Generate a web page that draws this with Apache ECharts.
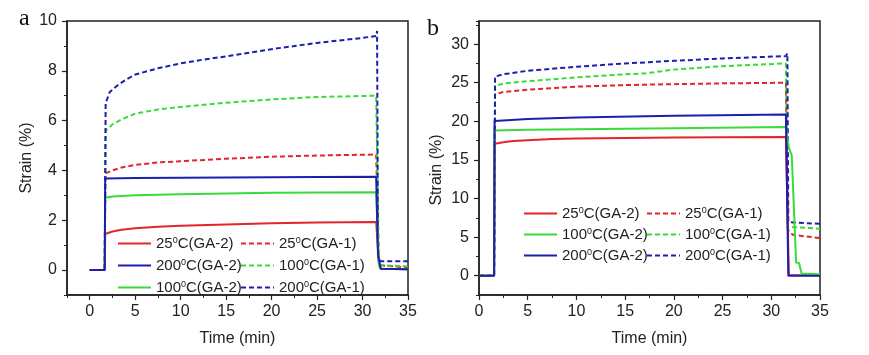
<!DOCTYPE html>
<html>
<head>
<meta charset="utf-8">
<script src="https://cdn.jsdelivr.net/npm/echarts@6/dist/echarts.min.js"></script>
<style>
html,body{margin:0;padding:0;background:#fff;}
#chart{width:869px;height:355px;}
</style>
</head>
<body>
<div id="chart"></div>
<script>
// ---------- data: panel a (time in min, strain in %) ----------
const a_25_GA2 = [[0,0],[1.65,0],[1.7,1.45],[2.5,1.55],[3.5,1.62],[5,1.68],[7.5,1.74],[10,1.78],[15,1.83],[20,1.88],[25,1.91],[31.5,1.93],[31.6,1.9],[31.8,0.3],[32,0.05],[35,0.03]];
const a_200_GA2 = [[0,0],[1.65,0],[1.7,3.68],[5,3.7],[15,3.72],[25,3.74],[31.5,3.75],[31.6,3.75],[31.7,0.65],[32,0.05],[35,0.03]];
const a_100_GA2 = [[0,0],[1.65,0],[1.7,2.9],[2.5,2.95],[5,3.0],[10,3.04],[20,3.1],[31.5,3.13],[31.6,3.13],[31.8,0.2],[32,0.05],[35,0.03]];
const a_25_GA1 = [[0,0],[1.65,0],[1.7,3.88],[2.5,4.0],[3.5,4.12],[5,4.22],[7.5,4.32],[10,4.37],[15,4.47],[20,4.55],[25,4.6],[31.5,4.64],[31.6,4.64],[31.8,0.2],[32,0.12],[35,0.1]];
const a_100_GA1 = [[0,0],[1.65,0],[1.75,5.6],[2.5,5.85],[3.5,6.05],[5,6.28],[7.5,6.45],[10,6.55],[15,6.72],[20,6.85],[25,6.95],[31.5,7.0],[31.6,7.02],[31.8,0.2],[32,0.15],[35,0.15]];
const a_200_GA1 = [[0,0],[1.65,0],[1.75,6.7],[2.2,7.15],[3,7.4],[4,7.65],[5,7.85],[7.5,8.1],[10,8.3],[12.5,8.45],[15,8.58],[20,8.87],[25,9.12],[30,9.32],[31.5,9.4],[31.6,9.6],[31.7,0.5],[32,0.35],[35,0.35]];

// ---------- data: panel b ----------
const b_25_GA2 = [[0,0],[1.55,0],[1.6,17.1],[2.5,17.3],[3.5,17.45],[5,17.55],[7.5,17.7],[10,17.78],[15,17.85],[20,17.9],[25,17.95],[31.5,17.98],[31.6,17.9],[31.8,0.1],[35,0.05]];
const b_100_GA2 = [[0,0],[1.55,0],[1.6,18.8],[5,18.9],[10,18.97],[20,19.12],[31.5,19.27],[31.6,19.2],[31.8,16.6],[32.1,15.6],[32.55,1.7],[32.85,1.65],[33.1,0.3],[35,0.2]];
const b_200_GA2 = [[0,0],[1.55,0],[1.6,20.05],[5,20.3],[10,20.5],[20,20.72],[31.5,20.9],[31.6,20.9],[31.75,0],[35,0]];
const b_25_GA1 = [[0,0],[1.55,0],[1.65,23.5],[2.5,23.8],[5,24.1],[10,24.5],[15,24.7],[20,24.82],[25,24.92],[31.5,25.0],[31.6,25.0],[31.7,5.95],[32.2,5.3],[35,4.87]];
const b_100_GA1 = [[0,0],[1.55,0],[1.65,24.6],[2.5,24.9],[5,25.2],[10,25.7],[15,26.1],[17,26.2],[20,26.7],[25,27.15],[31.5,27.5],[31.6,27.6],[31.7,6.4],[32.2,6.3],[35,6.08]];
const b_200_GA1 = [[0,0],[1.55,0],[1.65,25.8],[2.5,26.1],[5,26.55],[10,27.07],[15,27.5],[20,27.84],[25,28.15],[31.5,28.45],[31.65,28.8],[31.75,7.0],[32.2,6.9],[35,6.72]];

// ---------- tick labels ----------
const timeTicks = [0,5,10,15,20,25,30,35];
const aStrainTicks = [0,2,4,6,8,10];
const bStrainTicks = [0,5,10,15,20,25,30];

const names = {
  t25g2: '25⁰C(GA-2)', t25g1: '25⁰C(GA-1)',
  t100g2: '100⁰C(GA-2)', t100g1: '100⁰C(GA-1)',
  t200g2: '200⁰C(GA-2)', t200g1: '200⁰C(GA-1)'
};

const RED = '#e3262b', GREEN = '#38dc38', BLUE = '#1c1fae';
const FONT = 'Liberation Sans, Arial, sans-serif';

function mkSeries(name, data, color, dashed, xi, yi) {
  return {
    type: 'line', name: name, data: data, xAxisIndex: xi, yAxisIndex: yi,
    symbol: 'none', smooth: false, animation: false,
    lineStyle: { color: color, width: 2, type: dashed ? [5,3] : 'solid' },
    itemStyle: { color: color },
    z: dashed ? 2 : 3
  };
}

function majorX(grid, min, max) {
  return {
    type: 'value', gridIndex: grid, min: min, max: max, position: 'bottom',
    axisLine: { show: true, onZero: false, lineStyle: { color: '#222', width: 1.5 } },
    axisTick: { show: true, inside: false, length: 5, customValues: timeTicks, lineStyle: { color: '#222', width: 1.2 } },
    axisLabel: { show: true, customValues: timeTicks, margin: 9, fontSize: 16, color: '#222', fontFamily: FONT },
    splitLine: { show: false },
    name: 'Time (min)', nameLocation: 'middle', nameGap: 36,
    nameTextStyle: { fontSize: 16, color: '#222', fontFamily: FONT }
  };
}
function minorX(grid, min, max) {
  return {
    type: 'value', gridIndex: grid, min: min, max: max, interval: 2.5, position: 'bottom', offset: 0,
    axisLine: { show: false, onZero: false },
    axisTick: { show: true, inside: false, length: 3, lineStyle: { color: '#222', width: 1 } },
    axisLabel: { show: false }, splitLine: { show: false }
  };
}
function majorY(grid, min, max, ticks, pad) {
  return {
    type: 'value', gridIndex: grid, min: min, max: max, position: 'left',
    axisLine: { show: true, onZero: false, lineStyle: { color: '#222', width: 1.5 } },
    axisTick: { show: true, inside: false, length: 5, customValues: ticks, lineStyle: { color: '#222', width: 1.2 } },
    axisLabel: { show: true, customValues: ticks, margin: 10, fontSize: 16, color: '#222', fontFamily: FONT },
    splitLine: { show: false },
    name: 'Strain (%)', nameLocation: 'middle', nameGap: pad.gap,
    nameTextStyle: { fontSize: 16, color: '#222', fontFamily: FONT, padding: pad.padding }
  };
}
function minorY(grid, min, max, interval) {
  return {
    type: 'value', gridIndex: grid, min: min, max: max, interval: interval, position: 'left', offset: 0,
    axisLine: { show: false, onZero: false },
    axisTick: { show: true, inside: false, length: 3, lineStyle: { color: '#222', width: 1 } },
    axisLabel: { show: false }, splitLine: { show: false }
  };
}

function legendCol(left, top, gap, data) {
  return {
    orient: 'vertical', left: left, top: top, padding: 0, itemGap: gap,
    itemWidth: 33, itemHeight: 14, data: data,
    selectedMode: false,
    itemStyle: { opacity: 0 },
    formatter: function (n) { return n.replace('⁰', '{s|0}'); },
    textStyle: { fontSize: 15, color: '#222', fontFamily: FONT,
      rich: { s: { fontSize: 9, verticalAlign: 'top', padding: [0, 0, 4, 0], color: '#222', fontFamily: FONT } } }
  };
}

const chart = echarts.init(document.getElementById('chart'), null, { renderer: 'canvas' });
chart.setOption({
  animation: false,
  backgroundColor: '#fff',
  grid: [
    { left: 67, top: 21, width: 341, height: 274, show: true, borderColor: '#222', borderWidth: 1.5, backgroundColor: 'transparent' },
    { left: 479, top: 21, width: 341, height: 274, show: true, borderColor: '#222', borderWidth: 1.5, backgroundColor: 'transparent' }
  ],
  xAxis: [
    majorX(0, -2.5, 35), minorX(0, -2.5, 35),
    majorX(1, 0, 35), minorX(1, 0, 35)
  ],
  yAxis: [
    majorY(0, -1, 10, aStrainTicks, { gap: 32, padding: [0, 0, 0, 0] }), minorY(0, -1, 10, 1),
    majorY(1, -2.5, 33, bStrainTicks, { gap: 34, padding: [0, 24, 0, 0] }), minorY(1, -2.5, 33, 2.5)
  ],
  legend: [
    legendCol(117, 236, 7, [names.t25g2, names.t200g2, names.t100g2]),
    legendCol(240, 236, 7, [names.t25g1, names.t100g1, names.t200g1]),
    legendCol(523, 206, 6, [names.t25g2, names.t100g2, names.t200g2]),
    legendCol(646, 206, 6, [names.t25g1, names.t100g1, names.t200g1])
  ],
  graphic: [
    { type: 'text', left: 19, top: 7, style: { text: 'a', fontSize: 24, fontFamily: 'Liberation Serif, DejaVu Serif, serif', fill: '#111' } },
    { type: 'text', left: 427, top: 17, style: { text: 'b', fontSize: 24, fontFamily: 'Liberation Serif, DejaVu Serif, serif', fill: '#111' } }
  ],
  series: [
    mkSeries(names.t25g1, a_25_GA1, RED, true, 0, 0),
    mkSeries(names.t100g1, a_100_GA1, GREEN, true, 0, 0),
    mkSeries(names.t200g1, a_200_GA1, BLUE, true, 0, 0),
    mkSeries(names.t25g2, a_25_GA2, RED, false, 0, 0),
    mkSeries(names.t100g2, a_100_GA2, GREEN, false, 0, 0),
    mkSeries(names.t200g2, a_200_GA2, BLUE, false, 0, 0),
    mkSeries(names.t25g1, b_25_GA1, RED, true, 2, 2),
    mkSeries(names.t100g1, b_100_GA1, GREEN, true, 2, 2),
    mkSeries(names.t200g1, b_200_GA1, BLUE, true, 2, 2),
    mkSeries(names.t25g2, b_25_GA2, RED, false, 2, 2),
    mkSeries(names.t100g2, b_100_GA2, GREEN, false, 2, 2),
    mkSeries(names.t200g2, b_200_GA2, BLUE, false, 2, 2)
  ]
});
</script>
</body>
</html>
